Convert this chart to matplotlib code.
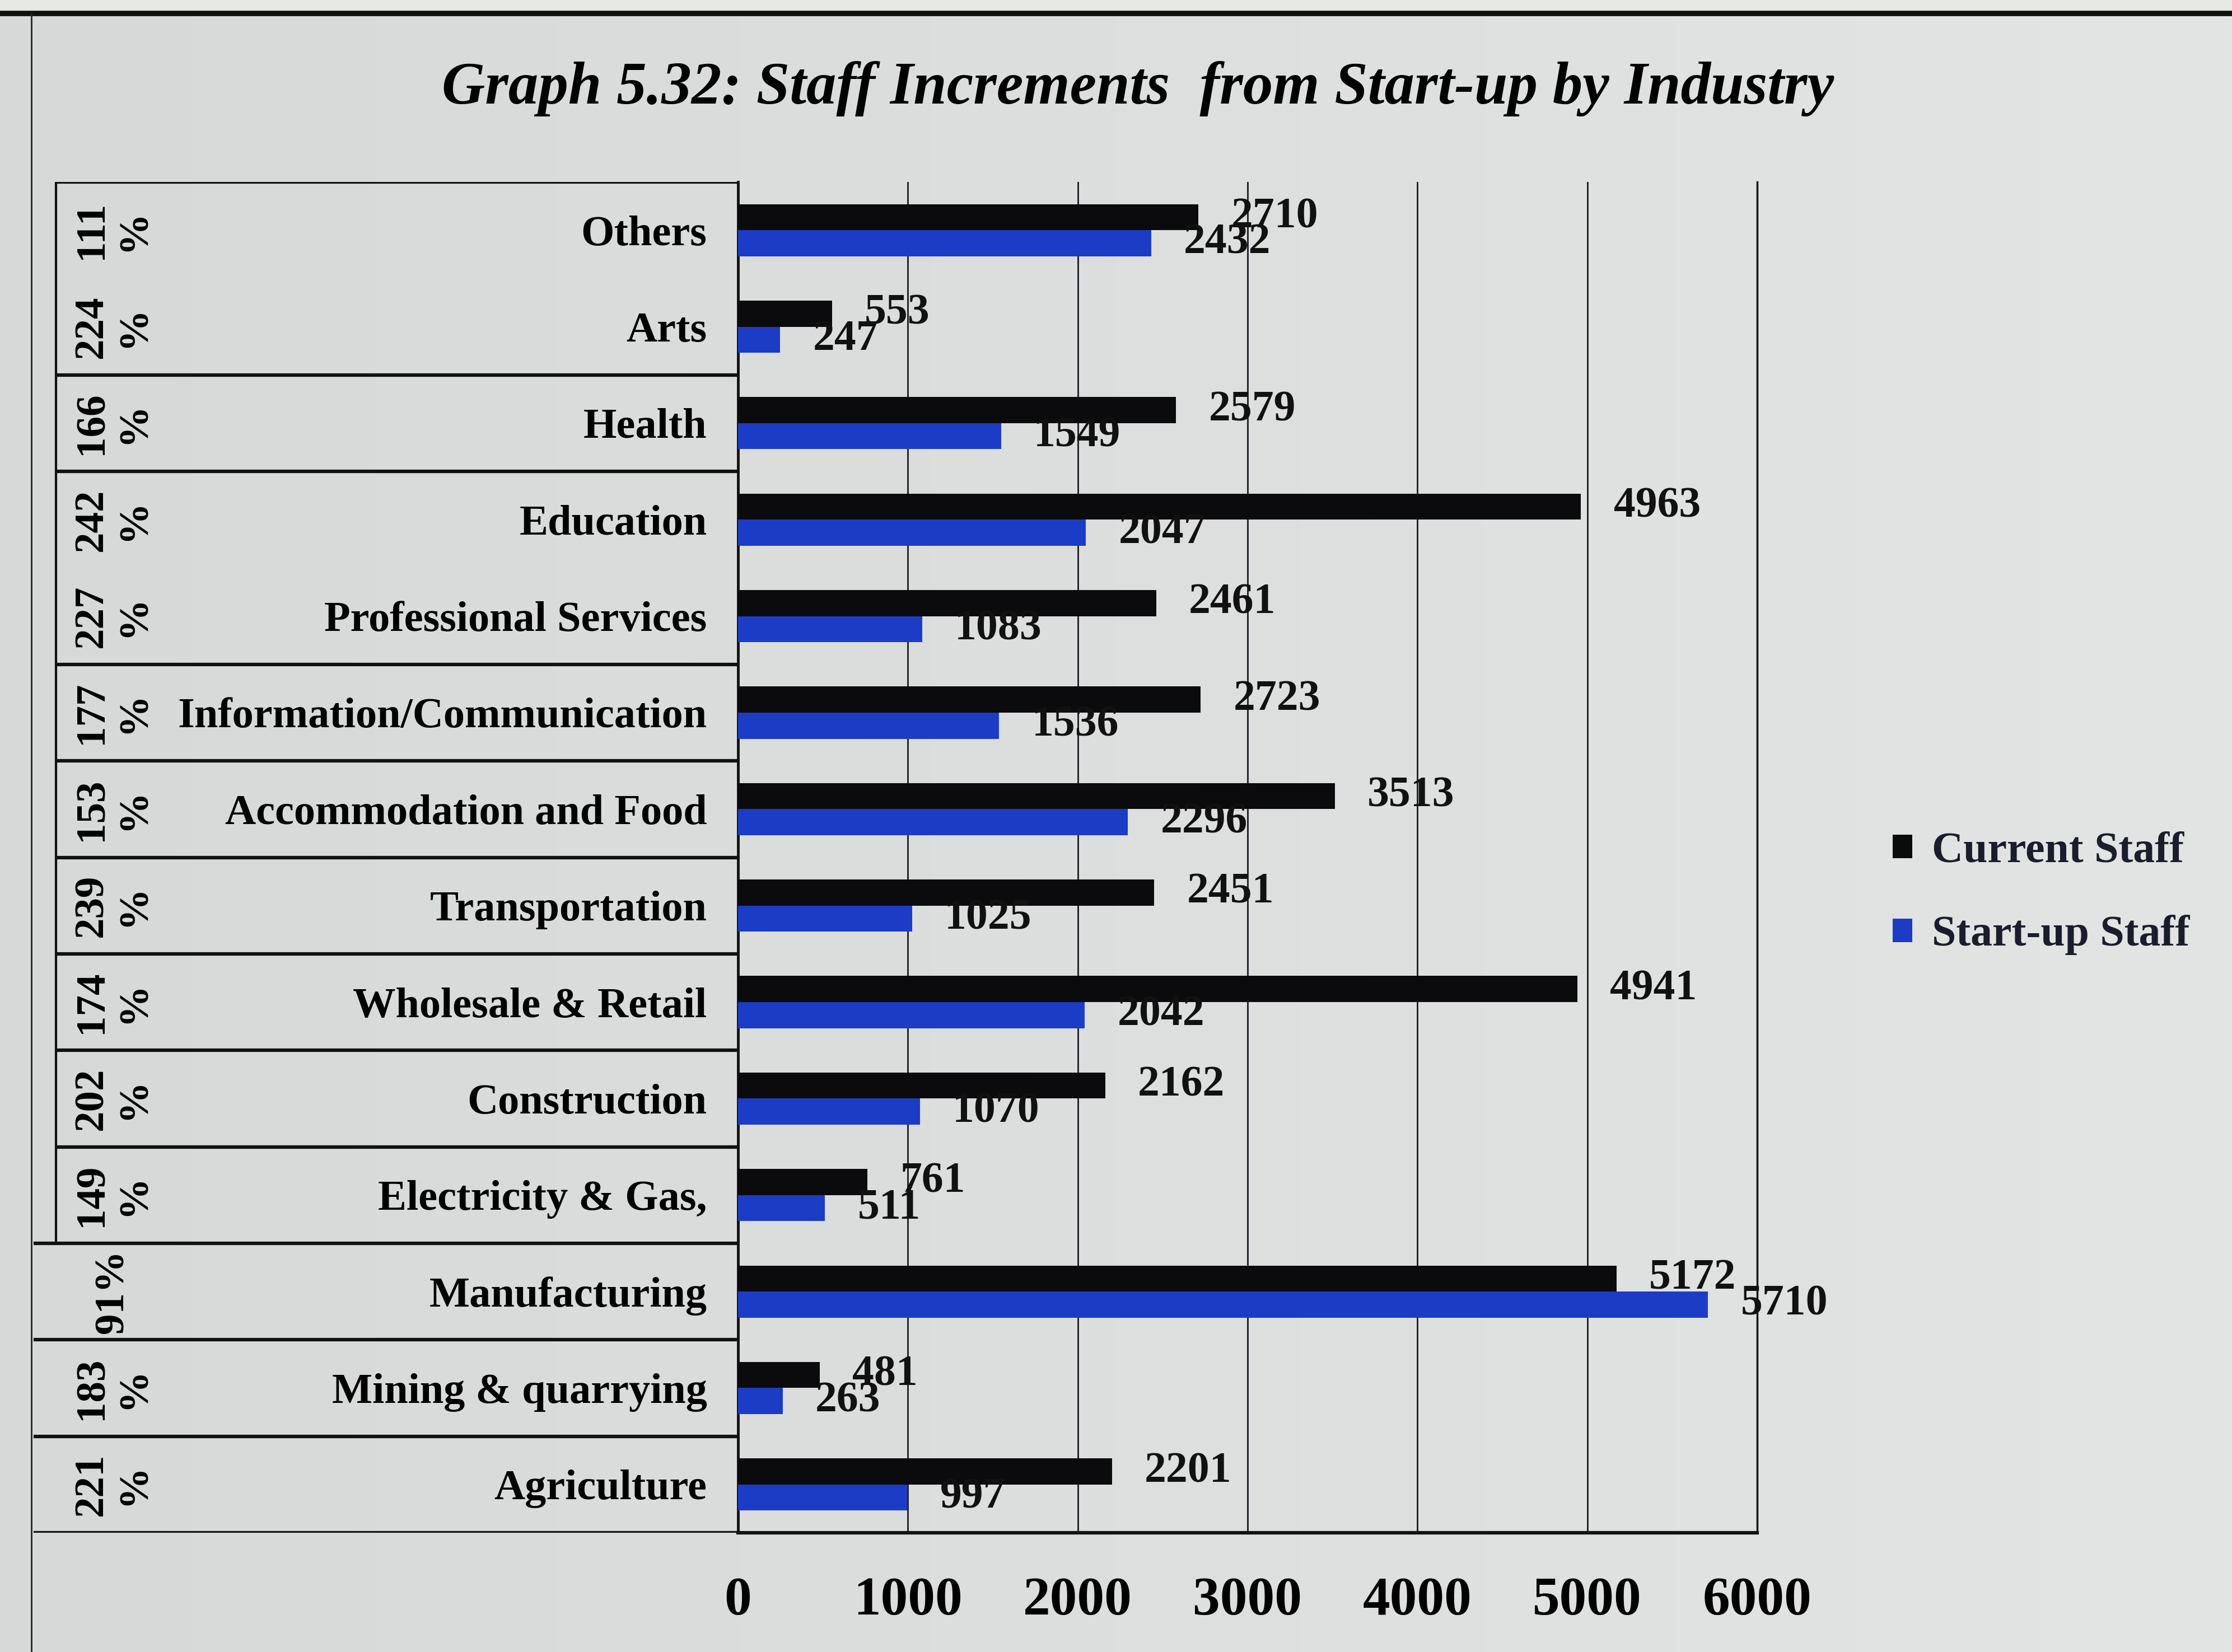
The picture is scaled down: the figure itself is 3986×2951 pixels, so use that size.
import numpy as np
import matplotlib
import matplotlib.pyplot as plt
from matplotlib.lines import Line2D
from matplotlib.patches import Rectangle

matplotlib.rcParams["font.family"] = "Liberation Serif"
matplotlib.rcParams["font.weight"] = "bold"

# data, listed top row first
industries = ["Others", "Arts", "Health", "Education", "Professional Services",
              "Information/Communication", "Accommodation and Food", "Transportation",
              "Wholesale & Retail", "Construction", "Electricity & Gas,", "Manufacturing",
              "Mining & quarrying", "Agriculture"]
current_staff = [2710, 553, 2579, 4963, 2461, 2723, 3513, 2451, 4941, 2162, 761, 5172, 481, 2201]
startup_staff = [2432, 247, 1549, 2047, 1083, 1536, 2296, 1025, 2042, 1070, 511, 5710, 263, 997]
increment_pct = [111, 224, 166, 242, 227, 177, 153, 239, 174, 202, 149, 91, 183, 221]
xticks = [0, 1000, 2000, 3000, 4000, 5000, 6000]

# table rows that get a rule underneath (index from the top)
ruled_rows = [1, 2, 4, 5, 6, 7, 8, 9, 10, 11, 12, 13]

W, H = 3987, 2951
bg = "#d9dcdb"
ink = "#0b0b0d"
blue = "#1c3cc6"

fig = plt.figure(figsize=(W / 100, H / 100), dpi=100, facecolor=bg)

# soft light falloff across the slide, lighter towards the right
grad = fig.add_axes([0, 0, 1, 1], zorder=-10)
grad.imshow(np.linspace(0, 1, 256)[None, :],
            cmap=matplotlib.colors.LinearSegmentedColormap.from_list("bg", ["#d6d9d8", "#e3e5e4"]),
            aspect="auto", extent=(0, 1, 0, 1))
grad.axis("off")

# slide edge at the top and left
fig.add_artist(Rectangle((0, 1 - 22 / H), 1, 22 / H, transform=fig.transFigure,
                         color="#e6e9e4", zorder=0))
fig.add_artist(Line2D([0, 1], [1 - 24 / H, 1 - 24 / H], transform=fig.transFigure,
                      color="#111", lw=7))
fig.add_artist(Line2D([56 / W, 56 / W], [0, 1 - 24 / H], transform=fig.transFigure,
                      color="#222", lw=2))

n = len(industries)
y = np.arange(n)[::-1]
h = 0.27

left, right, top, bottom = 1318, 3138, 325, 2738
ax = fig.add_axes([left / W, 1 - bottom / H, (right - left) / W, (bottom - top) / H])
ax.set_facecolor("none")

b1 = ax.barh(y + h / 2, current_staff, height=h, color=ink, label="Current Staff", zorder=3)
b2 = ax.barh(y - h / 2, startup_staff, height=h, color=blue, label="Start-up Staff", zorder=3)
ax.bar_label(b1, labels=[str(v) for v in current_staff], padding=42, fontsize=56, color="#111")
ax.bar_label(b2, labels=[str(v) for v in startup_staff], padding=42, fontsize=56, color="#111")

ax.set_xlim(0, 6000)
ax.set_ylim(-0.5, n - 0.5)
ax.set_xticks(xticks)
ax.set_xticklabels([str(t) for t in xticks])
ax.set_yticks(y)
ax.set_yticklabels(industries)
ax.tick_params(axis="both", length=0)
ax.tick_params(axis="x", labelsize=70, pad=56)
ax.tick_params(axis="y", labelsize=55, pad=40)
ax.grid(axis="x", color="#1a1a22", lw=2, zorder=1)
ax.spines["top"].set_visible(False)
ax.spines["left"].set_linewidth(3.5)
ax.spines["right"].set_linewidth(2.5)
ax.spines["bottom"].set_linewidth(4.5)
for s in ax.spines.values():
    s.set_color("#111")

# left-hand table: percentage column and row rules
tab = fig.add_axes([60 / W, 1 - bottom / H, (left - 60) / W, (bottom - top) / H])
tab.set_xlim(0, 1)
tab.set_ylim(-0.5, n - 0.5)
tab.axis("off")
x_in = 40 / (left - 60)
tab.hlines(n - 0.5, x_in, 1, color="#111", lw=4.5)
for i in ruled_rows:
    yb = n - 1 - i - 0.5
    tab.hlines(yb, 0 if i >= 10 else x_in, 1, color="#111", lw=4.5)
tab.vlines(x_in, n - 0.5, n - 1 - 10 - 0.5, color="#111", lw=3)

for yi, p in zip(y, increment_pct):
    txt = f"{p}\n%" if p >= 100 else f"{p}%"
    tab.text(142 / (left - 60), yi, txt, rotation=90, ha="center", va="center",
             fontsize=54, linespacing=1.15, multialignment="center")

fig.text(2032 / W, 1 - 158 / H, "Graph 5.32: Staff Increments  from Start-up by Industry",
         ha="center", va="center", fontsize=77, style="italic", fontweight="bold")

ax.legend(handles=[b1, b2], loc="center left",
          bbox_to_anchor=(3310 / W, 1 - 1596 / H), bbox_transform=fig.transFigure,
          frameon=False, fontsize=56, handlelength=0.45, handleheight=0.45,
          handletextpad=0.45, labelspacing=1.0, labelcolor="#1a1d2c")

fig.savefig("out.png", dpi=100, facecolor=bg)
